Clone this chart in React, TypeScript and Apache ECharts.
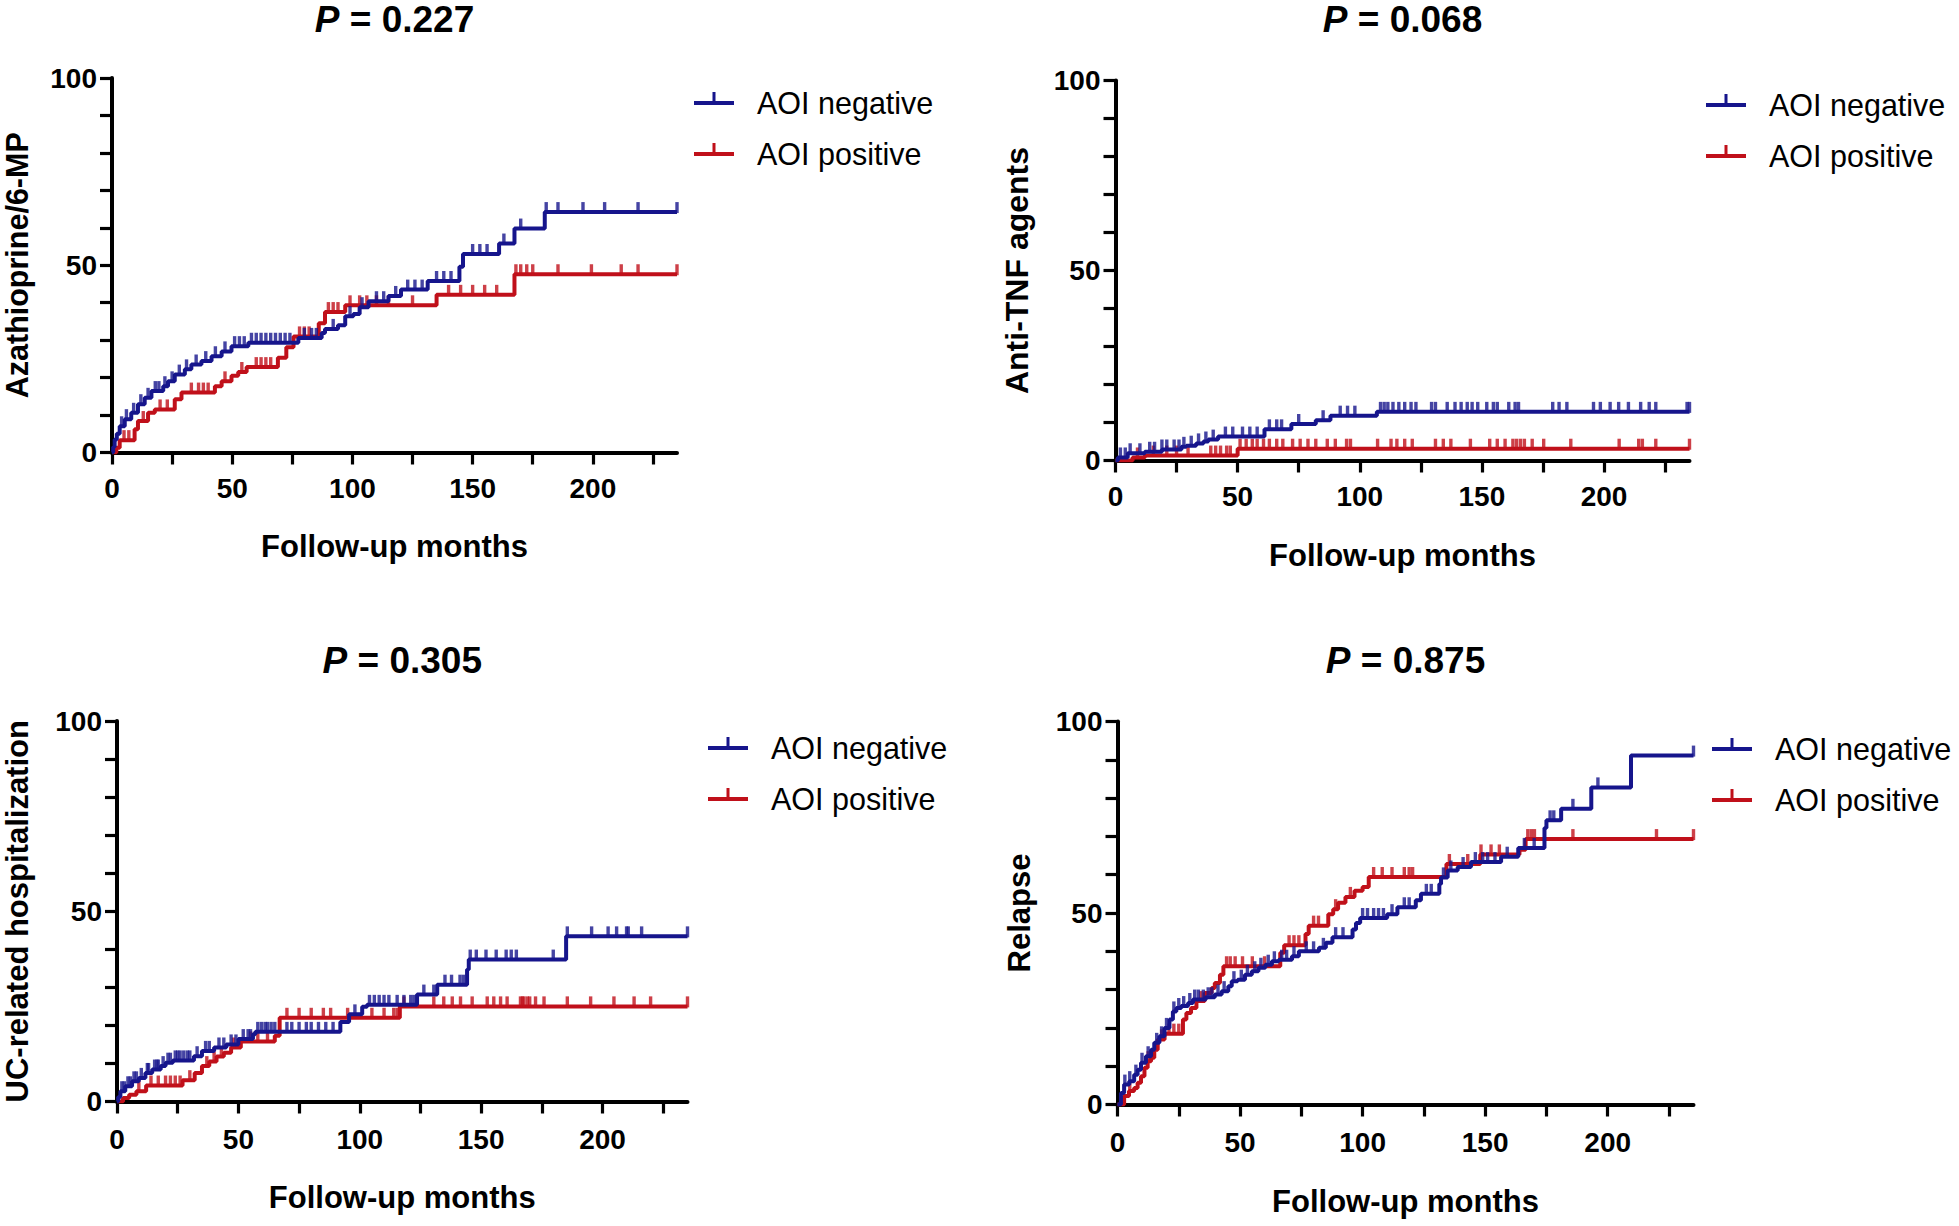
import React, { useEffect, useRef } from "react";
import * as echarts from "echarts";

type Pt = [number, number];

// ---------- data ----------
const groupNames = ["AOI negative", "AOI positive"];
const pValues = ["0.227", "0.068", "0.305", "0.875"];
const yAxisNames = ["Azathioprine/6-MP", "Anti-TNF agents", "UC-related hospitalization", "Relapse"];
const xAxisName = "Follow-up months";

const xTickValues = [0, 25, 50, 75, 100, 125, 150, 175, 200, 225];
const xLabelValues = [0, 50, 100, 150, 200];
const yTickValues = [0, 10, 20, 30, 40, 50, 60, 70, 80, 90, 100];
const yLabelValues = [0, 50, 100];

// Panel 1: Azathioprine/6-MP
const neg1Steps: Pt[] = [[0,0],[0.5,1.5],[1.1,3.5],[2,5],[3.2,7],[5.3,8.9],[8,10.6],[10.8,12.9],[13.6,14.6],[16.4,16.4],[21.3,17.7],[23.3,19],[26.1,20.8],[30.3,22.2],[33,23.5],[37.2,24.4],[41.4,25.7],[45.6,27],[49.7,28.4],[56.7,29.3],[77.5,30.6],[87.2,31.9],[88.6,33],[94,34],[97,36.4],[100.4,37],[103,38.8],[106.7,40.4],[115,41.8],[120.2,43.5],[131.3,45.8],[144.5,49.6],[146,53],[161,55.8],[167.4,59.8],[180,64.2]];
const neg1Censor = [4,6,9,12,15,18,19.5,22,25,28,31,35,39,43,47,51,53,55,58,60,62,64,66,68,70,72,74,80,83,85,92,99,104,110,113,118,123,126,129,135,138,141,150,153,156,163,170,180.6,185.5,195.9,204.9,218.8,235];
const pos1Steps: Pt[] = [[0,0],[1.8,1.3],[3.2,3.3],[9.4,6.2],[10.8,8.4],[15,10.6],[17.8,11.5],[26.1,14.2],[28.9,16],[42.8,17.7],[45.6,19],[49.7,20.5],[52.5,21.5],[56,22.8],[69,25.3],[72.5,28.1],[75.5,31],[86,34.5],[88.6,37.5],[97,39.3],[135,42.1],[167.4,47.6]];
const pos1Censor = [5,7,13,20,23,33,36,38,40,47,54,60,62,64,66,78,80,82,90,92,94,99,103,106,110,115,125,140,145,150,155,160,168,170,172.5,175,185.5,199.4,211.8,218.8,235];

// Panel 2: Anti-TNF agents
const neg2Steps: Pt[] = [[0,0],[1,0.8],[5,1.9],[12,2.3],[19,2.9],[27,3.6],[29,3.9],[33,4.5],[36,5.0],[38,5.5],[42,6.3],[61,8.2],[72,9.6],[82,10.6],[88,11.8],[107,12.8]];
const neg2Censor = [2,4,6,10,14,16,19,21,24,26,28,31,34,37,40,45,48,52,55,58,63,66,68,75,85,92,95,98,108.5,110,111.5,113.6,116,118.4,121,123,129.4,131,135.8,139,141.5,144,146,148.3,152,154.7,156.3,161,163.6,165,179,181.6,184.8,195.7,198.5,202.5,206,210,215,218.5,221.2,234,235];
const pos2Steps: Pt[] = [[0,0],[7,0.8],[12,1.3],[50,3.1]];
const pos2Censor = [9,15.5,21,25,29.7,39,41,43,45.5,47,51,53.5,56,58,60.6,63,66,68.5,72.5,75.6,78.8,82,86.7,90,94.6,96.2,107.3,112.8,115.2,118.4,121.5,131,134.2,137.3,145.3,153.2,156.3,159.5,162.7,164.2,165.8,167.4,170.6,175.3,186.4,206.2,214.2,215.7,221.2,235];

// Panel 3: UC-related hospitalization
const neg3Steps: Pt[] = [[0,0],[0.5,1.2],[1.4,2.7],[3.4,4],[6.2,5.3],[9,6.2],[11.7,7.5],[14.5,8.4],[18,9.3],[20,10.2],[23,10.8],[31.7,11.9],[35,13.3],[40,14.2],[45,15],[50,16.4],[56,17.7],[57,18.3],[92,20.9],[95.6,22.9],[101,24.9],[103,25.4],[123.6,28.1],[131.9,30.7],[144.2,34.7],[144.9,37.3],[185,43.4]];
const neg3Censor = [2,3,4.5,5.5,7,8,10,12.5,13,15.5,16.5,17,19,21,22,24,25,26,27.5,29,30,33,36.5,38,42,44,47,49,52,54,55,58,59.5,61,62,63.5,65,70,72,75,78,80,83,86,89,98,104,106,108,110,112,115.4,118.2,121,122.3,126.4,130.5,135.1,137.8,141.3,142.7,145.5,148,152,156.2,160.3,162.4,164.5,179.7,185.5,195.5,202.3,205.8,209.9,210.6,216.1,235];
const pos3Steps: Pt[] = [[0,0],[2.5,0.9],[5,1.8],[8,2.7],[12,4.2],[27,5.6],[32,7.5],[35,9.3],[38,10.5],[41,11.8],[44,12.8],[47,14.2],[51,15.8],[65,17.3],[67,22],[116.5,25]];
const pos3Censor = [9,14,17,20,22,24,26,30,37,40,43,48,55,58,62,70,75,80,85,88,95,105,110,114,115.4,118.2,130.5,134.6,138.1,141.5,146.3,152.5,155.2,158,160.7,166.2,167,167.6,169,170,172.4,175.9,185.5,195.1,204.7,213,219.8,235];

// Panel 4: Relapse
const neg4Steps: Pt[] = [[0,0],[1.4,3],[2.7,5.2],[4.8,6.1],[6.8,7.8],[8.2,9.1],[9.6,10.9],[11.6,12.6],[13.7,14.3],[15,16.1],[17.1,17.8],[19.2,20],[21.2,22.2],[22.6,24.3],[24,25.2],[26,25.7],[28.8,26.5],[30.8,27.4],[36,28],[39.7,28.7],[42.5,29.6],[45.2,30.9],[46.6,32.2],[49,32.6],[52,33.9],[54.8,34.8],[57.5,35.7],[60.3,36.5],[63,37.4],[65.8,37.8],[71.2,38.7],[74,40],[82.2,40.9],[85,42.2],[87.7,43.7],[95.9,45.7],[97.3,47.4],[99,48.7],[110,49.7],[114.2,51.5],[121.7,53.3],[123.8,55],[131.3,57.6],[132,59.3],[134.7,61.1],[138.8,62],[144.2,63.3],[156.5,64.7],[163.5,67],[174.2,72.2],[175,74.2],[181,77.2],[193.3,82.8],[209.5,91.1]];
const neg4Censor = [3,5,7.5,10,12.5,16,18,20,23,25,27,29.5,31.5,33,35,37,38.5,41,43.5,47.5,50.5,53,56,58.5,61.5,64,67,69,72,77,80,84,89,92,100,102,104.5,106.5,108.5,112,117,119,126,128,133,136,141,146,149,151,154,159,166,170,176.5,178,185.8,196,235];
const pos4Steps: Pt[] = [[0,0],[2.7,2.2],[4.7,3.5],[6.8,4.3],[8.2,5.7],[9.6,7.4],[11,9.6],[12.3,11.3],[13.7,12.2],[15,14.3],[16.4,17],[19.2,18.5],[26.7,22.2],[28.1,23.9],[30,25.2],[32.2,27],[35.6,29.1],[38.4,30.4],[39.7,31.7],[41.8,33.9],[43.2,36.1],[66.4,39.6],[68,41.6],[76.7,44.5],[78,46.7],[86,49.7],[88,51],[90,52.7],[93,54.2],[96.7,55.8],[100,56.8],[102.5,59.4],[134.2,62.8],[148,65.3],[164,66.5],[166.5,69.3]];
const pos4Censor = [5,12.5,18,21,23,25,34,44.5,46,48,51,55,60,70,72,74,80,82,89,95,104.5,108,112,117,119,120.4,135.4,142.9,148.3,152.4,155.8,167.4,168.8,170.1,185.8,219.9,235];

const negSteps = [neg1Steps, neg2Steps, neg3Steps, neg4Steps];
const negCensor = [neg1Censor, neg2Censor, neg3Censor, neg4Censor];
const posSteps = [pos1Steps, pos2Steps, pos3Steps, pos4Steps];
const posCensor = [pos1Censor, pos2Censor, pos3Censor, pos4Censor];

// ---------- layout / style ----------
const BLUE = "#16158C";
const RED = "#C0101A";
const FONT = '"Liberation Sans", Arial, Helvetica, sans-serif';
const X_MAX = 235;

const panels = [
  { left: 112, top: 78, width: 565, height: 374.5, titleY: 19, legendLeft: 689, legendTop: 82, yNameGap: 80, yNameSize: 30.5, xNameGap: 78.5, xLabelMargin: 22 },
  { left: 1115.5, top: 80.5, width: 574, height: 380, titleY: 19.5, legendLeft: 1701, legendTop: 84, yNameGap: 83, yNameSize: 32, xNameGap: 79, xLabelMargin: 22 },
  { left: 117, top: 721, width: 570.5, height: 380.5, titleY: 660, legendLeft: 703, legendTop: 727, yNameGap: 84, yNameSize: 31, xNameGap: 80.5, xLabelMargin: 23.5 },
  { left: 1117.5, top: 721.5, width: 576, height: 383, titleY: 660, legendLeft: 1707, legendTop: 728, yNameGap: 83, yNameSize: 31, xNameGap: 81.5, xLabelMargin: 24 },
];

function valueAt(steps: Pt[], t: number): number {
  let v = 0;
  for (const [x, y] of steps) {
    if (x <= t) v = y;
    else break;
  }
  return v;
}

function curve(steps: Pt[], censor: number[]): Pt[] {
  const end = Math.max(...censor);
  const last = steps[steps.length - 1];
  return [...steps, [end, last[1]]];
}

const legendIcon =
  "path://M0,10L40,10L40,14L0,14Z M18.5,1L21.5,1L21.5,10L18.5,10Z M0,23L0.01,23L0.01,23.01Z M0,0L0.01,0L0.01,0.01Z";

export default function App() {
  const ref = useRef<HTMLDivElement>(null);

  useEffect(() => {
    document.body.style.margin = "0";
    if (!ref.current) return;
    const chart = echarts.init(ref.current, undefined, { renderer: "svg" });

    const axisText = { color: "#000", fontFamily: FONT, fontWeight: "bold" as const };

    const grid = panels.map((p) => ({ left: p.left, top: p.top, width: p.width, height: p.height }));

    const xAxis = panels.map((p, i) => ({
      gridIndex: i,
      type: "value",
      min: 0,
      max: X_MAX,
      splitLine: { show: false },
      axisLine: { show: true, onZero: false, lineStyle: { color: "#000", width: 4 } },
      axisTick: { show: true, customValues: xTickValues, length: 12, lineStyle: { color: "#000", width: 3.2 } },
      axisLabel: { customValues: xLabelValues, margin: p.xLabelMargin, fontSize: 28, ...axisText },
      name: xAxisName,
      nameLocation: "middle",
      nameGap: p.xNameGap,
      nameTextStyle: { fontSize: 31, ...axisText },
    }));

    const yAxis = panels.map((p, i) => ({
      gridIndex: i,
      type: "value",
      min: 0,
      max: 100,
      splitLine: { show: false },
      axisLine: { show: true, onZero: false, lineStyle: { color: "#000", width: 4 } },
      axisTick: { show: true, customValues: yTickValues, length: 12, lineStyle: { color: "#000", width: 3.2 } },
      axisLabel: { customValues: yLabelValues, margin: 15, fontSize: 28, ...axisText },
      name: yAxisNames[i],
      nameLocation: "middle",
      nameRotate: 90,
      nameGap: p.yNameGap,
      nameTextStyle: { fontSize: p.yNameSize, ...axisText },
    }));

    const series: any[] = [];
    panels.forEach((_, i) => {
      const groups = [
        { name: groupNames[1], steps: posSteps[i], censor: posCensor[i], color: RED, z: 2 },
        { name: groupNames[0], steps: negSteps[i], censor: negCensor[i], color: BLUE, z: 3 },
      ];
      groups.forEach((g) => {
        series.push({
          type: "line",
          name: g.name,
          xAxisIndex: i,
          yAxisIndex: i,
          step: "end",
          data: curve(g.steps, g.censor),
          showSymbol: false,
          symbol: "none",
          lineStyle: { color: g.color, width: 4 },
          itemStyle: { color: g.color },
          z: g.z,
          silent: true,
        });
        series.push({
          type: "scatter",
          name: g.name + " censored",
          xAxisIndex: i,
          yAxisIndex: i,
          data: g.censor.map((t) => [t, valueAt(g.steps, t)]),
          symbol: "rect",
          symbolSize: [3.4, 11],
          symbolOffset: [0, -4.5],
          itemStyle: { color: g.color },
          z: g.z,
          silent: true,
        });
      });
    });

    const legend = panels.map((p) => ({
      orient: "vertical",
      left: p.legendLeft,
      top: p.legendTop,
      data: [groupNames[0], groupNames[1]],
      icon: legendIcon,
      itemWidth: 40,
      itemHeight: 24,
      itemGap: 20,
      selectedMode: false,
      textStyle: { fontSize: 30.5, color: "#000", fontFamily: FONT, lineHeight: 31, padding: [0, 0, 0, 18] },
    }));

    const graphic = panels.map((p, i) => ({
      type: "text",
      x: p.left + p.width / 2,
      y: p.titleY,
      style: {
        text: "{i|P} = " + pValues[i],
        align: "center",
        verticalAlign: "middle",
        fontSize: 37,
        lineHeight: 36,
        fontWeight: "bold",
        fontFamily: FONT,
        fill: "#000",
        rich: {
          i: { fontStyle: "italic", fontWeight: "bold", fontSize: 37, lineHeight: 36, fontFamily: FONT, fill: "#000" },
        },
      },
    }));

    chart.setOption({
      animation: false,
      backgroundColor: "#fff",
      grid,
      xAxis,
      yAxis,
      series,
      legend,
      graphic,
    });

    return () => chart.dispose();
  }, []);

  return <div ref={ref} style={{ width: 1959, height: 1226 }} />;
}
